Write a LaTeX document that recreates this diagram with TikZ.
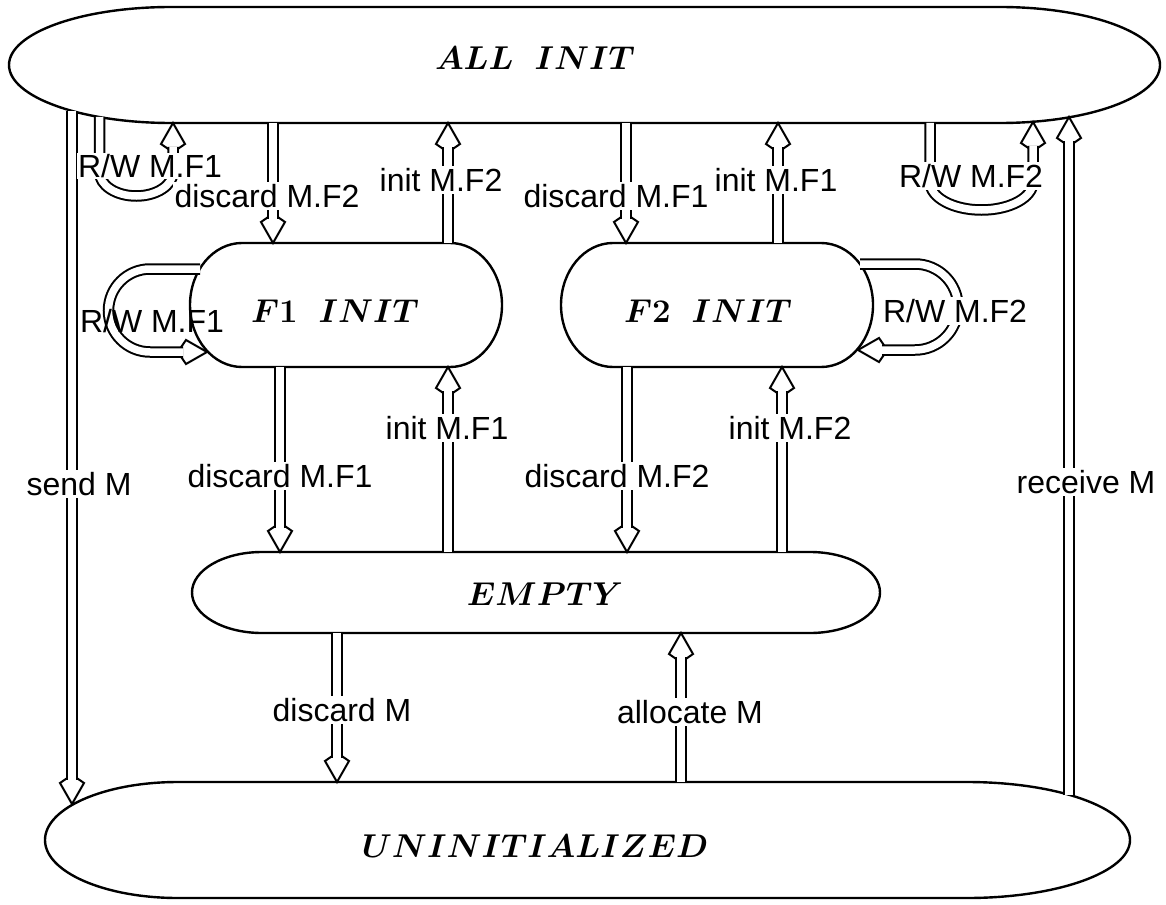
\RequirePackage{fix-cm}
\documentclass[tikz,border=0pt]{standalone}
\usepackage{fontspec}
\setsansfont{Liberation Sans}
\usetikzlibrary{decorations.markings}
\begin{document}
\begin{tikzpicture}[x=1pt,y=-1pt,
  shapeline/.style={line width=2.4pt},
  conn/.style={preaction={draw, double, double distance=7.5pt, line width=2pt, shorten >=24pt},
    postaction={decorate, decoration={markings, mark=at position 1 with
      {\draw[line width=2pt, line join=miter] (-26pt,4.75pt) -- (-21pt,12pt) -- (0pt,0pt) -- (-21pt,-12pt) -- (-26pt,-4.75pt);}}}},
  lbl/.style={font=\sffamily\fontsize{32}{38}\selectfont, fill=white, inner sep=2pt},
  lblnf/.style={font=\sffamily\fontsize{32}{38}\selectfont, inner sep=2pt},
  st/.style={font=\fontsize{33}{40}\selectfont\boldmath, inner sep=0pt}]
\useasboundingbox (0,0) rectangle (1166,904);
% states
\draw[shapeline] (171,7) -- (1000,7) arc[start angle=-90, end angle=90, x radius=160, y radius=58]
  -- (171,123) arc[start angle=90, end angle=270, x radius=162, y radius=58] -- cycle;
\node[st] (allinit) at (535,58) {$ALL\;\;INIT$};
\draw[shapeline] (242,243) -- (450,243) arc[start angle=-90, end angle=90, x radius=52, y radius=62]
  -- (242,367) arc[start angle=90, end angle=270, x radius=52, y radius=62] -- cycle;
\node[st] (f1init) at (335,311) {$F1\;\;INIT$};
\draw[shapeline] (613,243) -- (821,243) arc[start angle=-90, end angle=90, x radius=52, y radius=62]
  -- (613,367) arc[start angle=90, end angle=270, x radius=52, y radius=62] -- cycle;
\node[st] (f2init) at (708,311) {$F2\;\;INIT$};
\draw[shapeline] (262,552) -- (810,552) arc[start angle=-90, end angle=90, x radius=70, y radius=40.5]
  -- (262,633) arc[start angle=90, end angle=270, x radius=70, y radius=40.5] -- cycle;
\node[st] (empty) at (545,594) {$EMPTY$};
\draw[shapeline] (178,782) -- (967,782) arc[start angle=-90, end angle=90, x radius=163, y radius=58]
  -- (178,898) arc[start angle=90, end angle=270, x radius=133, y radius=58] -- cycle;
\node[st] (uninit) at (535,846) {$UNINITIALIZED$};
% anchor coordinates
\coordinate (sm1) at (72,111);   \coordinate (sm2) at (72,804);
\coordinate (rm1) at (1069,795); \coordinate (rm2) at (1069,117);
\coordinate (a1) at (273,123);   \coordinate (a2) at (273,243);
\coordinate (b1) at (448,243);   \coordinate (b2) at (448,123);
\coordinate (c1) at (626,123);   \coordinate (c2) at (626,243);
\coordinate (d1) at (778,243);   \coordinate (d2) at (778,123);
\coordinate (e1) at (280,367);   \coordinate (e2) at (280,552);
\coordinate (f1) at (448,552);   \coordinate (f2) at (448,367);
\coordinate (g1) at (627,367);   \coordinate (g2) at (627,552);
\coordinate (h1) at (782,552);   \coordinate (h2) at (782,367);
\coordinate (i1) at (337,633);   \coordinate (i2) at (337,782);
\coordinate (j1) at (681,782);   \coordinate (j2) at (681,633);
\coordinate (tl1) at (99.5,117); \coordinate (tl2) at (173,123);
\coordinate (tr1) at (930,123);  \coordinate (tr2) at (1033,122);
\coordinate (fl1) at (200,269);  \coordinate (fl2) at (207,352);
\coordinate (fr1) at (860,264);  \coordinate (fr2) at (858,350);
% transitions
\path[conn] (sm1) -- (sm2);
\path[conn] (rm1) -- (rm2);
\path[conn] (a1) -- (a2);
\path[conn] (b1) -- (b2);
\path[conn] (c1) -- (c2);
\path[conn] (d1) -- (d2);
\path[conn] (e1) -- (e2);
\path[conn] (f1) -- (f2);
\path[conn] (g1) -- (g2);
\path[conn] (h1) -- (h2);
\path[conn] (i1) -- (i2);
\path[conn] (j1) -- (j2);
\path[conn] (tl1) -- ++(0,55) arc[start angle=180, end angle=0, x radius=36.75, y radius=24] -- (tl2);
\path[conn] (tr1) -- ++(0,59) arc[start angle=180, end angle=0, x radius=51.5, y radius=28] -- (tr2);
\path[conn] (fl1) -- (150,269) arc[start angle=270, end angle=90, radius=41.5] -- (fl2);
\path[conn] (fr1) -- (915,264) arc[start angle=-90, end angle=90, radius=43] -- (fr2);
% labels
\node[lbl] (l2) at (267,196) {discard M.F2};
\node[lbl, inner sep=1pt] (l1) at (150,166) {R/W M.F1};
\node[lbl] (l3) at (441,180) {init M.F2};
\node[lbl] (l4) at (616,196) {discard M.F1};
\node[lbl] (l5) at (776,180) {init M.F1};
\node[lbl] (l6) at (971,176) {R/W M.F2};
\node[lblnf] (l7) at (152,321) {R/W M.F1};
\node[lbl] (l8) at (955,311) {R/W M.F2};
\node[lbl] (l9) at (280,476) {discard M.F1};
\node[lbl] (l10) at (447,428) {init M.F1};
\node[lbl] (l11) at (617,476) {discard M.F2};
\node[lbl] (l12) at (790,428) {init M.F2};
\node[lbl] (l13) at (79,484) {send M};
\node[lbl] (l14) at (1086,482) {receive M};
\node[lbl] (l15) at (342,710) {discard M};
\node[lbl] (l16) at (690,712) {allocate M};
\end{tikzpicture}
\end{document}
